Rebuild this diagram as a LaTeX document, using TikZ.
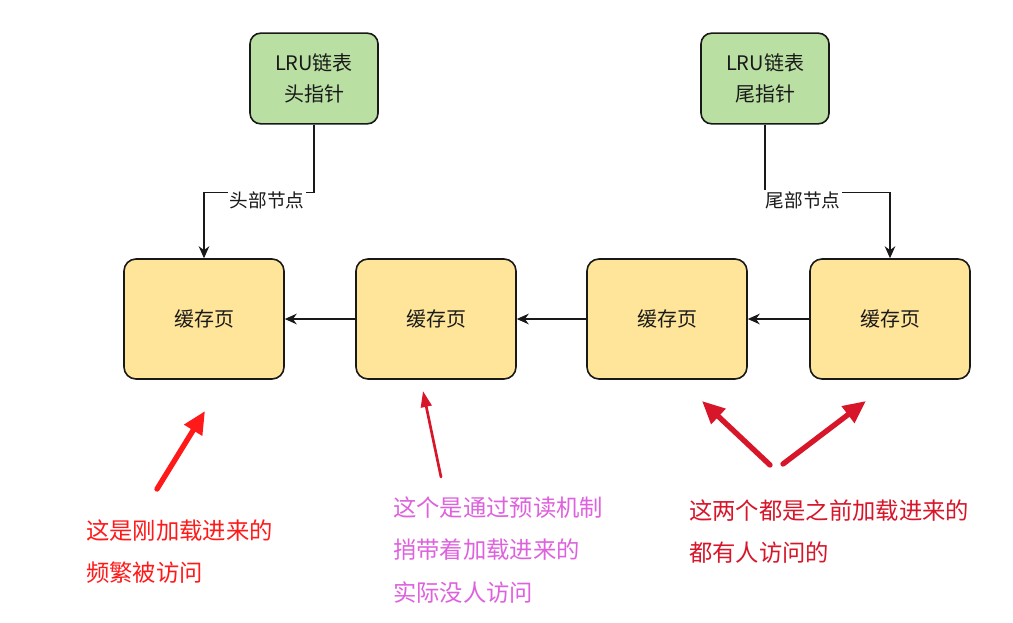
\documentclass[tikz,border=0pt]{standalone}
\usepackage{fontspec}
\setmainfont{Noto Sans CJK SC}
\usetikzlibrary{arrows.meta}
\definecolor{lGreen}{RGB}{185,224,162}
\definecolor{lYellow}{RGB}{255,229,153}
\definecolor{lInk}{RGB}{25,25,25}
\definecolor{lRed}{RGB}{255,25,25}
\definecolor{lDark}{RGB}{215,22,42}
\definecolor{lPurple}{RGB}{222,98,222}

\begin{document}
\begin{tikzpicture}[x=0.75pt,y=-0.75pt,
		>={Stealth[length=9pt,width=8pt]},
		ptr/.style={
			draw=lInk,line width=1.2pt,rounded corners=8pt,fill=lGreen,
			minimum width=96pt,minimum height=68pt,align=center,
			font=\fontsize{15}{23}\selectfont,text=lInk
		},
		page/.style={
			draw=lInk,line width=1.2pt,rounded corners=9pt,fill=lYellow,
			minimum width=120pt,minimum height=90pt,
			font=\fontsize{15}{18}\selectfont,text=lInk
		},
		link/.style={->,line width=1pt,lInk},
		lbl/.style={fill=white,inner sep=1pt,font=\fontsize{14}{16}\selectfont,text=lInk},
		hint/.style={-{Triangle[length=17pt,width=15pt]},line width=4pt,line cap=round},
		note/.style={anchor=north west,align=left,inner sep=0pt,font=\fontsize{17.5}{32}\selectfont}
	]
	\useasboundingbox (0,0) rectangle (1013,622);
	\fill[white] (0,0) rectangle (1013,622);

	\node[ptr] (hp) at (314,78.5) {LRU链表\\头指针};
	\node[ptr] (tp) at (765,78.5) {LRU链表\\尾指针};

	\node[page] (c1) at (204,319) {缓存页};
	\node[page] (c2) at (436,319) {缓存页};
	\node[page] (c3) at (667,319) {缓存页};
	\node[page] (c4) at (890,319) {缓存页};

	\draw[link] (c2.west) -- (c1.east);
	\draw[link] (c3.west) -- (c2.east);
	\draw[link] (c4.west) -- (c3.east);

	\draw[link] (hp.south) -- ++(0,68) -| (c1.north);
	\node[lbl] (hl) at (267,200) {头部节点};
	\draw[link] (tp.south) -- ++(0,68) -| (c4.north);
	\node[lbl] (tl) at (803,200) {尾部节点};

	% red hint arrows
	\coordinate (a1) at (157,489); \coordinate (b1) at (205,411);
	\coordinate (a2) at (441,477); \coordinate (b2) at (423,391);
	\coordinate (a3) at (770,465); \coordinate (b3) at (702,401);
	\coordinate (a4) at (783,464); \coordinate (b4) at (866,401);
	\draw[hint,lRed] (a1) -- (b1);
	\draw[hint,lDark,line width=2pt,-{Triangle[length=12pt,width=8pt]}] (a2) -- (b2);
	\draw[hint,lDark] (a3) -- (b3);
	\draw[hint,lDark] (a4) -- (b4);

	\node[note,text=lRed]    (n1) at (86,519)  {这是刚加载进来的\\频繁被访问};
	\node[note,text=lPurple] (n2) at (393,496) {这个是通过预读机制\\捎带着加载进来的\\实际没人访问};
	\node[note,text=lDark]   (n3) at (689,499) {这两个都是之前加载进来的\\都有人访问的};
\end{tikzpicture}
\end{document}
